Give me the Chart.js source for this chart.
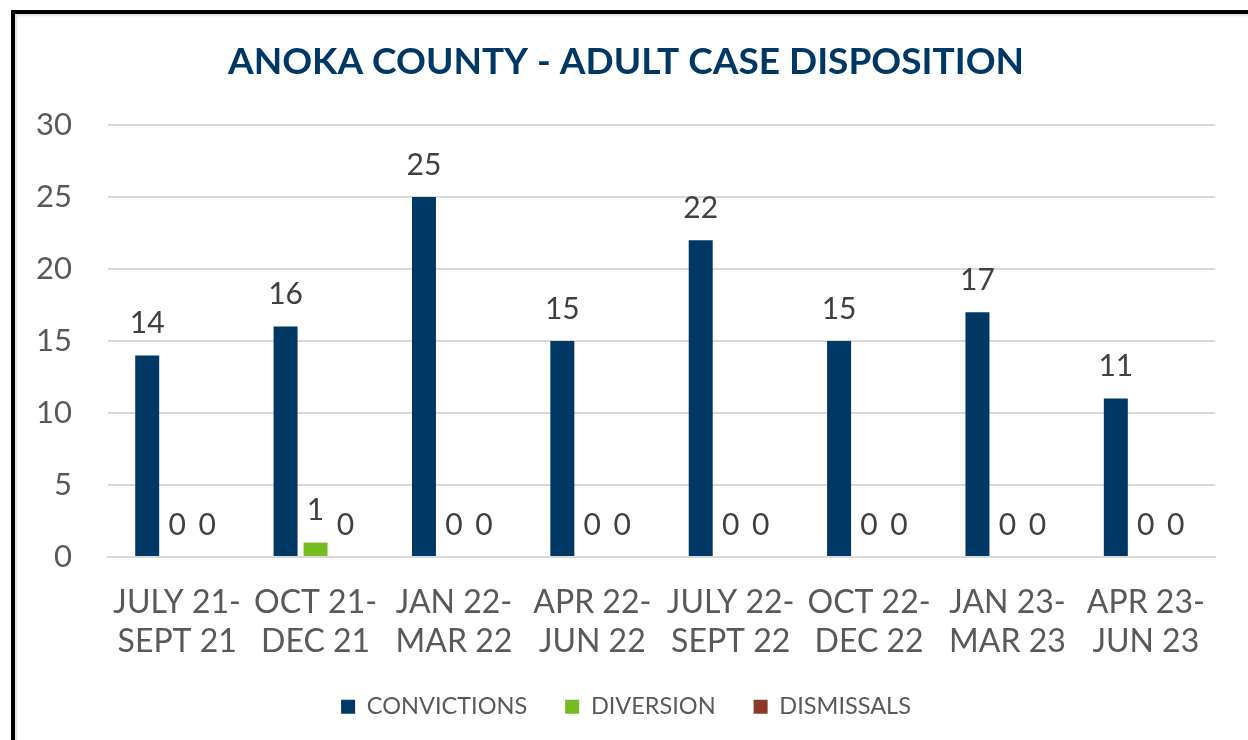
<!DOCTYPE html>
<html>
<head>
<meta charset="utf-8">
<script src="https://cdn.jsdelivr.net/npm/chart.js@4/dist/chart.umd.min.js"></script>
<style>
  html, body { margin: 0; padding: 0; background: #fff; }
  #wrap { position: relative; width: 1248px; height: 740px; overflow: hidden; }
  #frame {
    position: absolute; left: 11px; top: 10px; width: 1300px; height: 800px;
    border-left: 4px solid #000; border-top: 4px solid #000;
    box-shadow: inset 2px 2px 2px rgba(0,0,0,0.12);
  }
  canvas { position: absolute; left: 0; top: 0; }
</style>
</head>
<body>
<div id="wrap">
  <div id="frame"></div>
  <canvas id="barChart" width="1248" height="740"></canvas>
</div>
<script>
const categories = [
  ["JULY 21-", "SEPT 21"],
  ["OCT 21-", "DEC 21"],
  ["JAN 22-", "MAR 22"],
  ["APR 22-", "JUN 22"],
  ["JULY 22-", "SEPT 22"],
  ["OCT 22-", "DEC 22"],
  ["JAN 23-", "MAR 23"],
  ["APR 23-", "JUN 23"],
];
const convictions = [14, 16, 25, 15, 22, 15, 17, 11];
const diversion = [0, 1, 0, 0, 0, 0, 0, 0];
const dismissals = [0, 0, 0, 0, 0, 0, 0, 0];
const yTicks = [0, 5, 10, 15, 20, 25, 30];

const FONT = "Lato, 'Open Sans', sans-serif";

// draws the number above each bar, like excel data labels
const valueLabels = {
  id: "valueLabels",
  afterDatasetsDraw(chart) {
    const ctx = chart.ctx;
    ctx.save();
    ctx.font = "30px " + FONT;
    ctx.fillStyle = "#404040";
    ctx.textAlign = "center";
    ctx.textBaseline = "middle";
    chart.data.datasets.forEach((ds, i) => {
      const meta = chart.getDatasetMeta(i);
      meta.data.forEach((bar, j) => {
        ctx.fillText(String(ds.data[j]), bar.x, bar.y - 32);
      });
    });
    ctx.restore();
  },
};

new Chart(document.getElementById("barChart"), {
  type: "bar",
  data: {
    labels: categories,
    datasets: [
      { label: "CONVICTIONS", data: convictions, backgroundColor: "#003865", borderWidth: 0 },
      { label: "DIVERSION", data: diversion, backgroundColor: "#76bc21", borderWidth: 0 },
      { label: "DISMISSALS", data: dismissals, backgroundColor: "#8b3a2a", borderWidth: 0 },
    ],
  },
  options: {
    responsive: false,
    animation: false,
    devicePixelRatio: 1,
    categoryPercentage: 0.65,
    barPercentage: 0.8,
    layout: { padding: { left: 37, right: 33, top: 40, bottom: 11.5 } },
    plugins: {
      title: {
        display: true,
        text: "ANOKA COUNTY - ADULT CASE DISPOSITION",
        color: "#003865",
        font: { family: FONT, size: 37, weight: "bold", lineHeight: 1.2 },
        padding: { top: 0, bottom: 40.6 },
      },
      legend: {
        position: "bottom",
        labels: {
          color: "#595959",
          font: { family: FONT, size: 23.5 },
          boxWidth: 14,
          boxHeight: 14,
          padding: 38,
        },
      },
      tooltip: { enabled: false },
    },
    scales: {
      x: {
        afterFit: (axis) => {
          axis.height = 100;
        },
        grid: { display: false, drawTicks: false },
        border: { color: "#d9d9d9", width: 2 },
        ticks: {
          color: "#595959",
          font: { family: FONT, size: 32, lineHeight: 1.22 },
          padding: 26.5,
          maxRotation: 0,
        },
      },
      y: {
        min: 0,
        max: 30,
        afterFit: (axis) => {
          axis.width = 71;
        },
        afterBuildTicks: (axis) => {
          axis.ticks = yTicks.map((v) => ({ value: v }));
        },
        grid: { color: "#d9d9d9", lineWidth: 2, drawTicks: false },
        border: { display: false },
        ticks: {
          color: "#595959",
          font: { family: FONT, size: 31 },
          padding: 36,
        },
      },
    },
  },
  plugins: [valueLabels],
});
</script>
</body>
</html>
